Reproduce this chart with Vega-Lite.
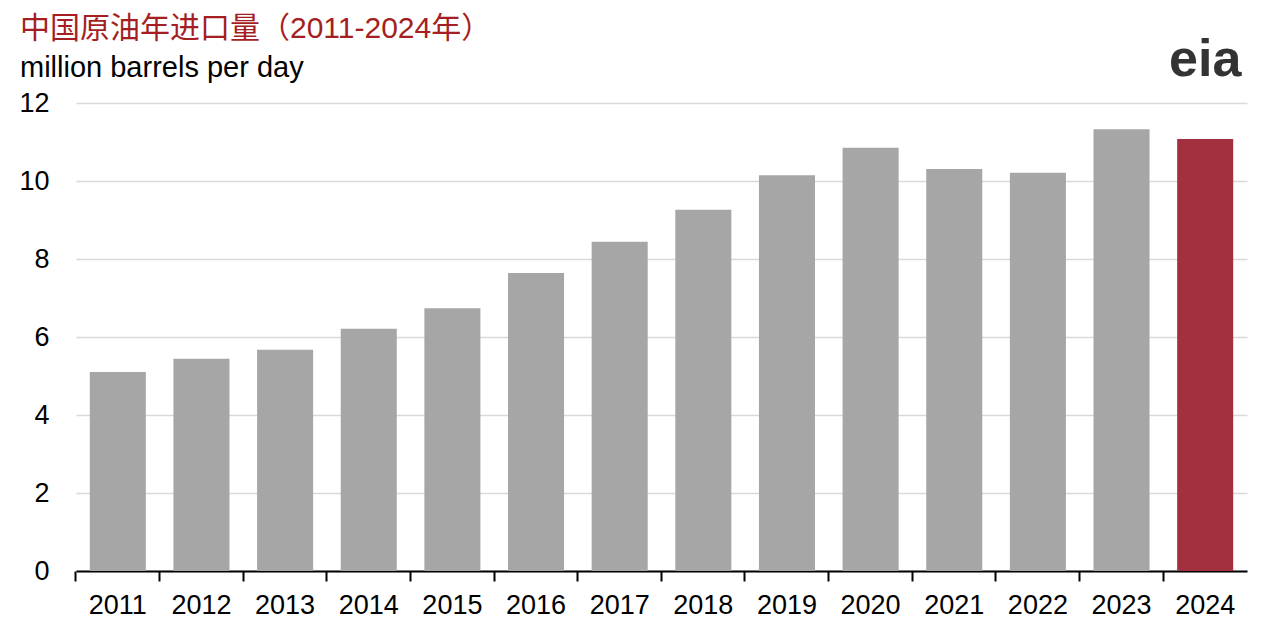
{
  "$schema": "https://vega.github.io/schema/vega-lite/v6.json",
  "width": 1171,
  "height": 468,
  "autosize": {"type": "none"},
  "padding": {"left": 76, "top": 103, "right": 33, "bottom": 69},
  "background": "white",
  "title": {
    "text": "中国原油年进口量（2011-2024年）",
    "subtitle": "million barrels per day",
    "anchor": "start",
    "frame": "group",
    "dx": -56,
    "offset": -49,
    "color": "#a51e22",
    "font": "Liberation Sans, Noto Sans CJK SC",
    "fontSize": 30,
    "fontWeight": "normal",
    "subtitleColor": "#000000",
    "subtitleFont": "Liberation Sans",
    "subtitleFontSize": 29,
    "subtitlePadding": 10
  },
  "config": {"view": {"stroke": null}},
  "layer": [
    {
      "data": {
        "values": [
          {"year": "2011", "value": 5.10},
          {"year": "2012", "value": 5.44},
          {"year": "2013", "value": 5.67},
          {"year": "2014", "value": 6.21},
          {"year": "2015", "value": 6.74},
          {"year": "2016", "value": 7.64},
          {"year": "2017", "value": 8.44},
          {"year": "2018", "value": 9.26},
          {"year": "2019", "value": 10.15},
          {"year": "2020", "value": 10.85},
          {"year": "2021", "value": 10.31},
          {"year": "2022", "value": 10.21},
          {"year": "2023", "value": 11.33},
          {"year": "2024", "value": 11.08}
        ]
      },
      "mark": {"type": "bar"},
      "encoding": {
        "x": {
          "field": "year",
          "type": "ordinal",
          "scale": {"paddingInner": 0.33, "paddingOuter": 0.165},
          "axis": {
            "title": null,
            "labelAngle": 0,
            "labelFont": "Liberation Sans",
            "labelFontSize": 27,
            "labelColor": "#000000",
            "labelPadding": 11,
            "domainColor": "#000000",
            "domainWidth": 2,
            "tickColor": "#000000",
            "tickWidth": 2,
            "tickSize": 10,
            "bandPosition": -0.25
          }
        },
        "y": {
          "field": "value",
          "type": "quantitative",
          "scale": {"domain": [0, 12], "nice": false},
          "axis": {
            "title": null,
            "values": [0, 2, 4, 6, 8, 10, 12],
            "labelFont": "Liberation Sans",
            "labelFontSize": 27,
            "labelColor": "#000000",
            "labelPadding": 27,
            "domain": false,
            "ticks": false,
            "gridColor": "#d9d9d9",
            "gridWidth": 1.5
          }
        },
        "color": {
          "condition": {"test": "datum.year === '2024'", "value": "#a3303f"},
          "value": "#a6a6a6"
        }
      }
    },
    {
      "data": {"values": [{"t": "eia"}]},
      "mark": {"type": "text", "font": "Liberation Sans", "fontSize": 52, "fontWeight": "bold", "color": "#333333", "baseline": "middle"},
      "encoding": {
        "x": {"datum": "2024", "type": "ordinal"},
        "y": {"datum": 13.1, "type": "quantitative"},
        "text": {"field": "t"}
      }
    }
  ]
}
